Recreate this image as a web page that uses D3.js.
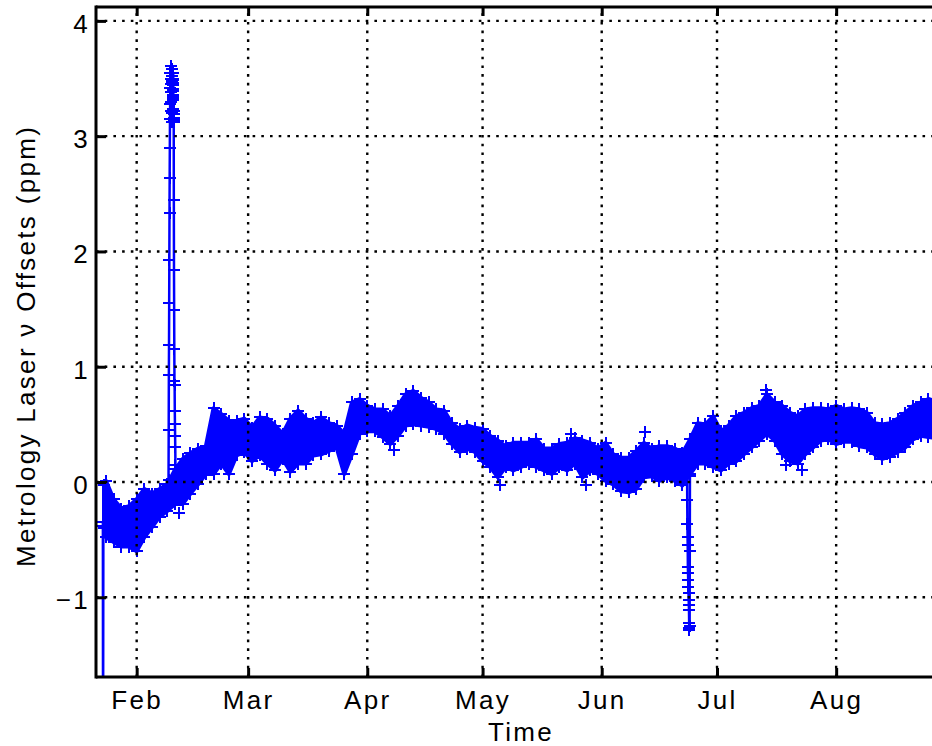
<!DOCTYPE html>
<html>
<head>
<meta charset="utf-8">
<script src="https://cdn.jsdelivr.net/npm/d3@7"></script>
<style>
  body { margin: 0; background: #fff; }
  svg { display: block; }
  text { font-family: "Liberation Sans", Arial, Helvetica, sans-serif; fill: #000; }
</style>
</head>
<body>
<svg id="chart" width="932" height="746"></svg>
<script>
// ---- data -------------------------------------------------------------
// Main band of offsets: upper / lower envelope sampled every two days (ppm)
const bandDates = [
  "2012-01-23T12:00Z","2012-01-24","2012-01-26","2012-01-28","2012-01-30",
  "2012-02-01","2012-02-03","2012-02-05","2012-02-07","2012-02-09","2012-02-11",
  "2012-02-13","2012-02-15","2012-02-17","2012-02-19","2012-02-21","2012-02-23",
  "2012-02-25","2012-02-27","2012-02-29","2012-03-02","2012-03-04","2012-03-06",
  "2012-03-08","2012-03-10","2012-03-12","2012-03-14","2012-03-16","2012-03-18",
  "2012-03-20","2012-03-22","2012-03-24","2012-03-26","2012-03-28","2012-03-30",
  "2012-04-01","2012-04-03","2012-04-05","2012-04-07","2012-04-09","2012-04-11",
  "2012-04-13","2012-04-15","2012-04-17","2012-04-19","2012-04-21","2012-04-23",
  "2012-04-25","2012-04-27","2012-04-29","2012-05-01","2012-05-03","2012-05-05",
  "2012-05-07","2012-05-09","2012-05-11","2012-05-13","2012-05-15","2012-05-17",
  "2012-05-19","2012-05-21","2012-05-23","2012-05-25","2012-05-27","2012-05-29",
  "2012-05-31","2012-06-02","2012-06-04","2012-06-06","2012-06-08","2012-06-10",
  "2012-06-12","2012-06-14","2012-06-16","2012-06-18","2012-06-20","2012-06-22",
  "2012-06-24","2012-06-26","2012-06-28","2012-06-30","2012-07-02","2012-07-04",
  "2012-07-06","2012-07-08","2012-07-10","2012-07-12","2012-07-14","2012-07-16",
  "2012-07-18","2012-07-20","2012-07-22","2012-07-24","2012-07-26","2012-07-28",
  "2012-07-30","2012-08-01","2012-08-03","2012-08-05","2012-08-07","2012-08-09",
  "2012-08-11","2012-08-13","2012-08-15","2012-08-17","2012-08-19","2012-08-21",
  "2012-08-23","2012-08-25","2012-08-27"
];
const bandUpper = [
  -0.03, 0.01,-0.15,-0.23,-0.21,
  -0.15,-0.06,-0.10,-0.06,-0.02, 0.11,
   0.20, 0.25, 0.29, 0.31, 0.64, 0.59,
   0.53, 0.53, 0.55, 0.47, 0.56, 0.55,
   0.49, 0.42, 0.55, 0.62, 0.55, 0.51,
   0.56, 0.51, 0.49, 0.42, 0.69, 0.72,
   0.66, 0.63, 0.63, 0.57, 0.66, 0.76,
   0.79, 0.73, 0.69, 0.63, 0.62, 0.51,
   0.46, 0.49, 0.47, 0.46, 0.40, 0.36,
   0.31, 0.34, 0.34, 0.34, 0.37, 0.29,
   0.29, 0.33, 0.34, 0.38, 0.36, 0.34,
   0.29, 0.34, 0.24, 0.21, 0.21, 0.27,
   0.34, 0.29, 0.31, 0.31, 0.29, 0.25,
   0.37, 0.51, 0.50, 0.57, 0.44, 0.49,
   0.57, 0.60, 0.64, 0.66, 0.76, 0.69,
   0.66, 0.60, 0.57, 0.63, 0.64, 0.64,
   0.63, 0.66, 0.63, 0.64, 0.63, 0.60,
   0.51, 0.50, 0.51, 0.55, 0.60, 0.66,
   0.69, 0.72, 0.70
];
const bandLower = [
  -0.40,-0.48,-0.52,-0.56,-0.56,
  -0.60,-0.48,-0.39,-0.30,-0.25,-0.19,
  -0.19,-0.10,-0.02, 0.07, 0.07, 0.16,
   0.07, 0.23, 0.26, 0.18, 0.23, 0.16,
   0.10, 0.20, 0.09, 0.16, 0.16, 0.23,
   0.24, 0.27, 0.30, 0.07, 0.24, 0.42,
   0.44, 0.44, 0.39, 0.33, 0.40, 0.49,
   0.50, 0.49, 0.48, 0.46, 0.42, 0.33,
   0.26, 0.29, 0.26, 0.18, 0.13, 0.04,
   0.13, 0.10, 0.13, 0.16, 0.13, 0.10,
   0.07, 0.13, 0.10, 0.16, 0.04, 0.10,
   0.07, 0.01,-0.02,-0.08,-0.09,-0.06,
   0.04, 0.05, 0.01, 0.04, 0.01,-0.03,
   0.07, 0.16, 0.16, 0.13, 0.10, 0.16,
   0.18, 0.24, 0.30, 0.36, 0.42, 0.36,
   0.24, 0.18, 0.16, 0.24, 0.30, 0.36,
   0.37, 0.33, 0.35, 0.35, 0.31, 0.30,
   0.24, 0.20, 0.22, 0.26, 0.30, 0.37,
   0.40, 0.39, 0.38
];

// First readings: one sample far below the axis
const startDates  = ["2012-01-23T05:00Z","2012-01-23T06:00Z","2012-01-23T08:00Z"];
const startValues = [-0.35, -2.60, -0.38];

// Early-February excursion
const spikeDates = [
  "2012-02-09T07:00Z","2012-02-09T08:00Z","2012-02-09T09:00Z","2012-02-09T10:00Z",
  "2012-02-09T11:00Z","2012-02-09T12:00Z","2012-02-09T13:00Z","2012-02-09T14:00Z",
  "2012-02-09T15:00Z","2012-02-09T16:00Z","2012-02-09T17:00Z","2012-02-09T18:00Z",
  "2012-02-09T19:00Z","2012-02-09T20:00Z","2012-02-09T21:00Z","2012-02-09T22:00Z",
  "2012-02-09T23:00Z","2012-02-10T00:00Z","2012-02-10T01:00Z","2012-02-10T02:00Z",
  "2012-02-10T03:00Z","2012-02-10T04:00Z","2012-02-10T05:00Z","2012-02-10T06:00Z",
  "2012-02-10T07:00Z","2012-02-10T08:00Z","2012-02-10T09:00Z","2012-02-10T10:00Z",
  "2012-02-10T11:00Z","2012-02-10T11:20Z","2012-02-10T11:40Z","2012-02-10T12:00Z",
  "2012-02-10T12:20Z","2012-02-10T12:40Z","2012-02-10T13:00Z","2012-02-10T13:20Z",
  "2012-02-10T13:40Z","2012-02-10T14:00Z","2012-02-10T14:20Z","2012-02-10T14:40Z",
  "2012-02-10T15:00Z","2012-02-10T15:20Z",
  "2012-02-10T16:00Z","2012-02-10T17:00Z","2012-02-10T18:00Z","2012-02-10T19:00Z",
  "2012-02-10T20:00Z","2012-02-10T21:00Z","2012-02-10T22:00Z","2012-02-10T23:00Z",
  "2012-02-11T00:00Z","2012-02-11T01:00Z","2012-02-11T02:00Z"
];
const spikeValues = [
  0.02, 0.45, 0.93, 1.19, 1.55, 1.93, 2.33, 2.64, 2.90, 3.15, 3.28, 3.42,
  3.55, 3.61, 3.50, 3.38, 3.45, 3.22, 3.30, 3.48, 3.20, 3.12,
  3.58, 3.52, 3.47, 3.50, 3.44, 3.39, 3.46, 3.41, 3.36, 3.33,
  3.55, 3.49, 3.31, 3.35, 3.24, 3.19, 3.14, 3.22, 3.16, 3.12,
  2.45, 1.84, 1.49, 1.15, 0.88, 0.84, 0.62, 0.50, 0.40, 0.30, 0.15
];

// Late-June excursion
const dipDates = [
  "2012-06-23T05:00Z","2012-06-23T06:00Z","2012-06-23T07:00Z","2012-06-23T08:00Z",
  "2012-06-23T09:00Z","2012-06-23T10:00Z","2012-06-23T11:00Z","2012-06-23T12:00Z",
  "2012-06-23T13:00Z","2012-06-23T14:00Z","2012-06-23T15:00Z","2012-06-23T16:00Z",
  "2012-06-23T17:00Z","2012-06-23T18:00Z","2012-06-23T19:00Z","2012-06-23T20:00Z",
  "2012-06-23T21:00Z","2012-06-23T22:00Z","2012-06-23T23:00Z"
];
const dipValues = [
  0.10,-0.16,-0.36,-0.48,-0.55,-0.74,-0.79,-0.85,-0.91,-0.96,-1.02,-1.07,
  -1.11,-1.22,-1.27,-1.28,-1.25,-0.60, 0.05
];

// Isolated readings just outside the band
const strayDates  = ["2012-02-12","2012-04-08","2012-05-05T12:00Z","2012-05-24",
                     "2012-05-28","2012-06-12T06:00Z","2012-07-13T18:00Z","2012-07-19","2012-07-23"];
const strayValues = [-0.27, 0.28, -0.03, 0.42, -0.03, 0.43, 0.80, 0.15, 0.10];

// Axis ticks
const monthDates  = ["2012-02-01","2012-03-01","2012-04-01","2012-05-01","2012-06-01","2012-07-01","2012-08-01"];
const monthLabels = ["Feb","Mar","Apr","May","Jun","Jul","Aug"];
const yTicks = [-1, 0, 1, 2, 3, 4];

// ---- drawing ----------------------------------------------------------
(function draw() {
  const BLUE = "#0000ff";
  const pL = 96, pR = 955.3, pT = 7, pB = 677;
  const svg = d3.select("#chart");

  const x = d3.scaleUtc()
    .domain([new Date(Date.UTC(2012, 0, 21, 10)), new Date(Date.UTC(2012, 8, 1))])
    .range([pL, pR]);
  const y = d3.scaleLinear().domain([-1.6915, 4.1205]).range([pB, pT]);

  svg.append("defs").append("clipPath").attr("id", "plotArea")
    .append("rect").attr("x", pL).attr("y", pT)
    .attr("width", pR - pL).attr("height", pB - pT);

  const toPts = (dates, vals) => dates.map((d, i) => ({ t: new Date(d), v: vals[i] }));
  const band = bandDates.map((d, i) => ({ t: new Date(d), hi: bandUpper[i], lo: bandLower[i] }));
  const startPts = toPts(startDates, startValues);
  const spikePts = toPts(spikeDates, spikeValues);
  const dipPts = toPts(dipDates, dipValues);
  const strayPts = toPts(strayDates, strayValues);

  const plot = svg.append("g").attr("clip-path", "url(#plotArea)");

  // filled band between envelopes
  plot.append("path").datum(band)
    .attr("d", d3.area().x(d => x(d.t)).y0(d => y(d.lo)).y1(d => y(d.hi)))
    .attr("fill", BLUE).attr("stroke", BLUE).attr("stroke-width", 4)
    .attr("stroke-linejoin", "round");

  // connected excursions
  const line = d3.line().x(d => x(d.t)).y(d => y(d.v));
  [startPts, spikePts, dipPts].forEach(pts => {
    plot.append("path").datum(pts).attr("d", line)
      .attr("fill", "none").attr("stroke", BLUE).attr("stroke-width", 2.5);
  });

  // "+" markers on every reading
  const markerPts = []
    .concat(band.map(d => ({ t: d.t, v: d.hi })))
    .concat(band.map(d => ({ t: d.t, v: d.lo })))
    .concat(startPts, spikePts, dipPts, strayPts);
  plot.append("g").selectAll("path").data(markerPts).join("path")
    .attr("transform", d => `translate(${Math.round(x(d.t))},${Math.round(y(d.v))})`)
    .attr("d", "M-6,0H6M0,-6V6")
    .attr("stroke", BLUE).attr("stroke-width", 2.5).attr("fill", "none")
    .attr("shape-rendering", "crispEdges");

  // dotted grid, drawn over the data
  const grid = svg.append("g").attr("stroke", "#000").attr("stroke-width", 2.4)
    .attr("stroke-dasharray", "2.6 6.1");
  grid.selectAll("line.v").data(monthDates).join("line").attr("class", "v")
    .attr("x1", d => x(new Date(d))).attr("x2", d => x(new Date(d)))
    .attr("y1", pB).attr("y2", pT);
  grid.selectAll("line.h").data(yTicks).join("line").attr("class", "h")
    .attr("x1", pL).attr("x2", 932)
    .attr("y1", d => y(d)).attr("y2", d => y(d));

  // axes
  const fmtY = d => (d < 0 ? "\u2212" + Math.abs(d) : String(d));
  const monthTicks = monthDates.map(d => new Date(d));
  const yAxis = svg.append("g").attr("transform", `translate(${pL},0)`)
    .call(d3.axisLeft(y).tickValues(yTicks).tickSize(-10).tickPadding(6).tickFormat(fmtY));
  const xAxis = svg.append("g").attr("transform", `translate(0,${pB})`)
    .call(d3.axisBottom(x).tickValues(monthTicks).tickSize(-9)
      .tickPadding(13.5).tickFormat((d, i) => monthLabels[i]));
  const xTop = svg.append("g").attr("transform", `translate(0,${pT})`)
    .call(d3.axisTop(x).tickValues(monthTicks).tickSize(-9).tickFormat(""));

  [yAxis, xAxis, xTop].forEach(a => {
    a.select(".domain").remove();
    a.attr("font-family", null).attr("font-size", null);
    a.selectAll(".tick line").attr("stroke", "#000").attr("stroke-width", 3);
    a.selectAll("text").attr("font-size", 26).attr("letter-spacing", "2.3px").attr("fill", "#000");
  });
  yAxis.selectAll("text").attr("dy", "0.44em");

  // axes box lines (left, bottom, top)
  const frame = svg.append("g").attr("stroke", "#000").attr("stroke-width", 3);
  frame.append("line").attr("x1", pL).attr("x2", pL).attr("y1", pT - 1.5).attr("y2", pB + 1.5);
  frame.append("line").attr("x1", pL).attr("x2", 932).attr("y1", pB).attr("y2", pB);
  frame.append("line").attr("x1", pL).attr("x2", 932).attr("y1", pT).attr("y2", pT);

  // labels
  svg.append("text").attr("x", 521).attr("y", 741).attr("text-anchor", "middle")
    .attr("font-size", 26).attr("letter-spacing", "2.3px").text("Time");
  svg.append("text").attr("transform", "translate(35,346) rotate(-90)")
    .attr("text-anchor", "middle").attr("font-size", 26).attr("letter-spacing", "2.3px")
    .text("Metrology Laser \u03bd Offsets (ppm)");
})();
</script>
</body>
</html>
